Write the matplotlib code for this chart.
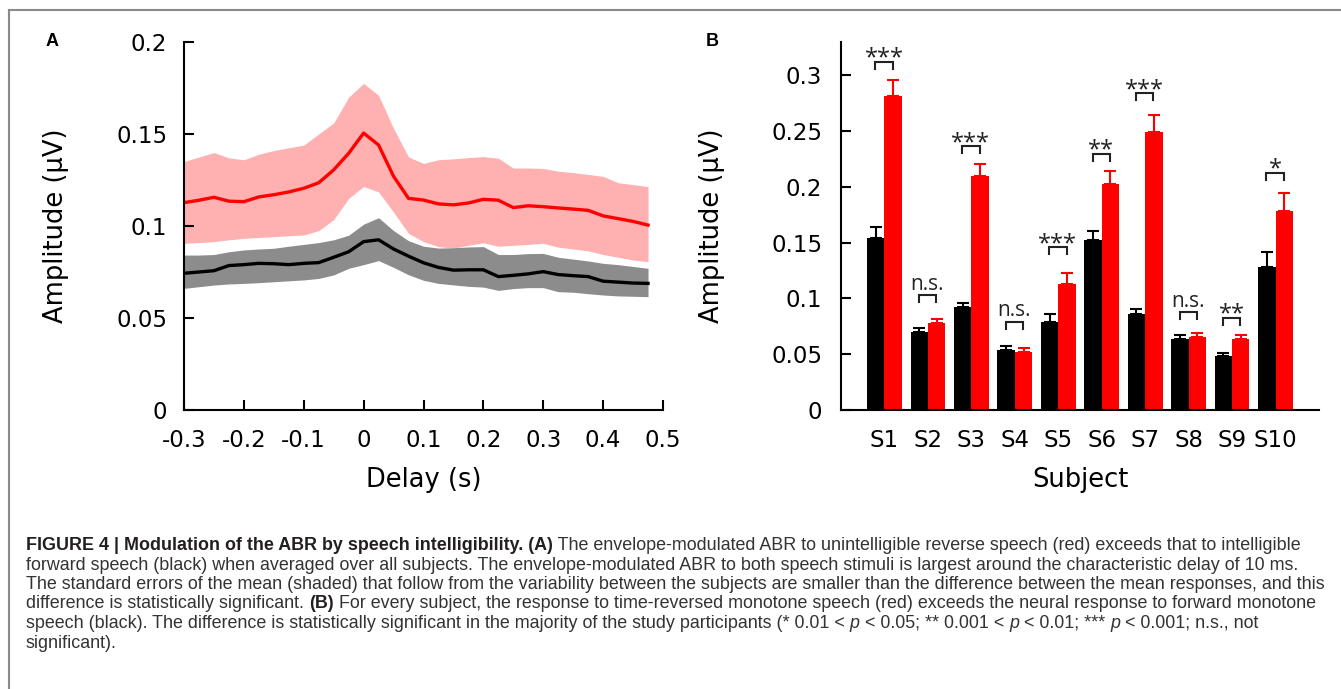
import numpy as np
import matplotlib
matplotlib.use('Agg')
import matplotlib.pyplot as plt
from matplotlib.lines import Line2D

W, H = 1341, 689

# ---- panel A: envelope-modulated ABR, mean and SEM bounds
delay = [-0.3, -0.275, -0.25, -0.225, -0.2, -0.175, -0.15, -0.125, -0.1, -0.075,
         -0.05, -0.025, 0.0, 0.025, 0.05, 0.075, 0.1, 0.125, 0.15, 0.175,
         0.2, 0.225, 0.25, 0.275, 0.3, 0.325, 0.35, 0.375, 0.4, 0.425, 0.45, 0.475]

rev_mean = [0.1127, 0.1140, 0.1156, 0.1135, 0.1132, 0.1158, 0.1170, 0.1185, 0.1205, 0.1235,
            0.1305, 0.1395, 0.1505, 0.1440, 0.1270, 0.1150, 0.1141, 0.1120, 0.1115, 0.1125,
            0.1145, 0.1140, 0.1100, 0.1110, 0.1105, 0.1098, 0.1092, 0.1085, 0.1055, 0.1040,
            0.1025, 0.1005]
rev_upper = [0.1350, 0.1375, 0.1399, 0.1370, 0.1360, 0.1390, 0.1410, 0.1425, 0.1440, 0.1500,
             0.1560, 0.1700, 0.1775, 0.1710, 0.1530, 0.1375, 0.1340, 0.1360, 0.1365, 0.1372,
             0.1377, 0.1368, 0.1315, 0.1315, 0.1313, 0.1298, 0.1290, 0.1280, 0.1270, 0.1235,
             0.1225, 0.1214]
rev_lower = [0.0906, 0.0910, 0.0915, 0.0925, 0.0933, 0.0938, 0.0942, 0.0947, 0.0951, 0.0975,
             0.1035, 0.1150, 0.1215, 0.1185, 0.1075, 0.0960, 0.0915, 0.0888, 0.0880, 0.0895,
             0.0909, 0.0890, 0.0895, 0.0900, 0.0906, 0.0885, 0.0875, 0.0865, 0.0845, 0.0830,
             0.0815, 0.0806]

fwd_mean = [0.0743, 0.0750, 0.0757, 0.0785, 0.0790, 0.0797, 0.0795, 0.0790, 0.0797, 0.0801,
            0.0830, 0.0860, 0.0915, 0.0925, 0.0875, 0.0836, 0.0800, 0.0775, 0.0760, 0.0762,
            0.0762, 0.0725, 0.0732, 0.0740, 0.0752, 0.0736, 0.0730, 0.0725, 0.0700, 0.0695,
            0.0690, 0.0688]
fwd_upper = [0.0842, 0.0842, 0.0845, 0.0860, 0.0870, 0.0875, 0.0879, 0.0890, 0.0900, 0.0910,
             0.0925, 0.0950, 0.1010, 0.1045, 0.0975, 0.0920, 0.0890, 0.0880, 0.0882, 0.0886,
             0.0888, 0.0845, 0.0845, 0.0850, 0.0851, 0.0830, 0.0820, 0.0810, 0.0797, 0.0790,
             0.0780, 0.0770]
fwd_lower = [0.0661, 0.0670, 0.0679, 0.0685, 0.0688, 0.0692, 0.0697, 0.0702, 0.0707, 0.0715,
             0.0734, 0.0770, 0.0790, 0.0812, 0.0775, 0.0735, 0.0705, 0.0688, 0.0680, 0.0672,
             0.0668, 0.0650, 0.0660, 0.0665, 0.0665, 0.0643, 0.0640, 0.0632, 0.0625, 0.0620,
             0.0618, 0.0616]

a_xticks = [-0.3, -0.2, -0.1, 0, 0.1, 0.2, 0.3, 0.4, 0.5]
a_xticklabels = ['-0.3', '-0.2', '-0.1', '0', '0.1', '0.2', '0.3', '0.4', '0.5']
a_yticks = [0, 0.05, 0.1, 0.15, 0.2]
a_yticklabels = ['0', '0.05', '0.1', '0.15', '0.2']

# ---- panel B: per-subject amplitudes
subjects = ['S1', 'S2', 'S3', 'S4', 'S5', 'S6', 'S7', 'S8', 'S9', 'S10']
fwd_amp = [0.1546, 0.0698, 0.0925, 0.0537, 0.0788, 0.1520, 0.0863, 0.0636, 0.0487, 0.1280]
fwd_se = [0.0094, 0.0036, 0.0035, 0.0036, 0.0072, 0.0086, 0.0047, 0.0036, 0.0026, 0.0138]
rev_amp = [0.2815, 0.0776, 0.2099, 0.0522, 0.1134, 0.2024, 0.2496, 0.0651, 0.0639, 0.1782]
rev_se = [0.0140, 0.0044, 0.0107, 0.0033, 0.0099, 0.0122, 0.0149, 0.0036, 0.0033, 0.0161]
sig_labels = ['***', 'n.s.', '***', 'n.s.', '***', '**', '***', 'n.s.', '**', '*']
bracket_level = [0.312, 0.103, 0.2366, 0.0789, 0.146, 0.230, 0.284, 0.0878, 0.0826, 0.2126]
b_yticks = [0, 0.05, 0.1, 0.15, 0.2, 0.25, 0.3]
b_yticklabels = ['0', '0.05', '0.1', '0.15', '0.2', '0.25', '0.3']

RED = '#ff0000'
PINK = '#ffb0b0'
GREY = '#8c8c8c'

plt.rcParams['font.family'] = ['DejaVu Sans']

fig = plt.figure(figsize=(W / 100, H / 100), dpi=100)


def style_axes(ax):
    for s in ['top', 'right']:
        ax.spines[s].set_visible(False)
    for s in ['left', 'bottom']:
        ax.spines[s].set_linewidth(1.5)
    ax.tick_params(direction='in', length=7.5, width=1.5, labelsize=16.5)


# panel A
ax1 = fig.add_axes([184 / W, 1 - 410 / H, 479 / W, 368 / H])
ax1.fill_between(delay, rev_lower, rev_upper, color=PINK, lw=0)
ax1.fill_between(delay, fwd_lower, fwd_upper, color=GREY, lw=0)
ax1.plot(delay, rev_mean, color=RED, lw=2.4)
ax1.plot(delay, fwd_mean, color='black', lw=2.4)
ax1.set_xlim(-0.3, 0.5)
ax1.set_ylim(0, 0.2)
style_axes(ax1)
ax1.set_xticks(a_xticks)
ax1.set_xticklabels(a_xticklabels)
ax1.set_yticks(a_yticks)
ax1.set_yticklabels(a_yticklabels)
ax1.tick_params(axis='x', pad=14)
ax1.tick_params(axis='y', pad=12)
ax1.set_xlabel('Delay (s)', fontsize=18.5, va='center')
ax1.xaxis.set_label_coords(0.5, -0.19)
ax1.set_ylabel('Amplitude (\u03bcV)', fontsize=18.5, va='center')
ax1.yaxis.set_label_coords(-0.267, 0.5)

# panel B
ax2 = fig.add_axes([841 / W, 1 - 410 / H, 478 / W, 368 / H])
x = np.arange(1, len(subjects) + 1)
ax2.bar(x - 0.2, fwd_amp, width=0.4, color='black', lw=0)
ax2.bar(x + 0.2, rev_amp, width=0.4, color=RED, lw=0)
ax2.errorbar(x - 0.2, fwd_amp, yerr=[np.zeros(len(x)), fwd_se], fmt='none',
             ecolor='black', elinewidth=1.5, capsize=4.5, capthick=1.5)
ax2.errorbar(x + 0.2, rev_amp, yerr=[np.zeros(len(x)), rev_se], fmt='none',
             ecolor=RED, elinewidth=1.5, capsize=4.5, capthick=1.5)
leg = 0.0063
for xi, lvl, lab in zip(x, bracket_level, sig_labels):
    ax2.plot([xi - 0.21, xi - 0.21, xi + 0.19, xi + 0.19],
             [lvl - leg, lvl, lvl, lvl - leg], color='#222222', lw=1.5,
             solid_joinstyle='miter')
    if lab == 'n.s.':
        ax2.annotate(lab, (xi - 0.01, lvl), xytext=(0, 4), textcoords='offset points',
                     ha='center', va='baseline', fontsize=15, family='Open Sans',
                     color='#222222')
    else:
        ax2.annotate(lab, (xi - 0.01, lvl), xytext=(0, -2), textcoords='offset points',
                     ha='center', va='baseline', fontsize=17, family='Open Sans',
                     color='#222222')
ax2.set_xlim(0, 11)
ax2.set_ylim(0, 0.33)
style_axes(ax2)
ax2.set_xticks(x)
ax2.set_xticklabels(subjects)
ax2.tick_params(axis='x', length=0, pad=14)
ax2.set_yticks(b_yticks)
ax2.set_yticklabels(b_yticklabels)
ax2.tick_params(axis='y', pad=13.5)
ax2.set_xlabel('Subject', fontsize=18.5, va='center')
ax2.xaxis.set_label_coords(0.5, -0.19)
ax2.set_ylabel('Amplitude (\u03bcV)', fontsize=18.5, va='center')
ax2.yaxis.set_label_coords(-0.27, 0.5)

# panel letters
fig.text(52 / W, 1 - 42 / H, 'A', ha='center', va='center', fontsize=13,
         fontweight='bold', family='Liberation Sans')
fig.text(712 / W, 1 - 42 / H, 'B', ha='center', va='center', fontsize=13,
         fontweight='bold', family='Liberation Sans')

# frame lines
fig.add_artist(Line2D([9 / W, 9 / W], [0, 1 - 10 / H], color='#8a8a8a', lw=1.5))
fig.add_artist(Line2D([9 / W, 1], [1 - 10 / H, 1 - 10 / H], color='#8a8a8a', lw=1.5))

# ---- caption
caption = [
    [('FIGURE 4 | Modulation of the ABR by speech intelligibility. (A)', 'bold', 'normal'),
     (' The envelope-modulated ABR to unintelligible reverse speech (red) exceeds that to intelligible', 'normal', 'normal')],
    [('forward speech (black) when averaged over all subjects. The envelope-modulated ABR to both speech stimuli is largest around the characteristic delay of 10 ms.', 'normal', 'normal')],
    [('The standard errors of the mean (shaded) that follow from the variability between the subjects are smaller than the difference between the mean responses, and this', 'normal', 'normal')],
    [('difference is statistically significant. ', 'normal', 'normal'), ('(B)', 'bold', 'normal'),
     (' For every subject, the response to time-reversed monotone speech (red) exceeds the neural response to forward monotone', 'normal', 'normal')],
    [('speech (black). The difference is statistically significant in the majority of the study participants (* 0.01 < ', 'normal', 'normal'),
     ('p', 'normal', 'italic'), (' < 0.05; ** 0.001 < ', 'normal', 'normal'), ('p', 'normal', 'italic'),
     (' < 0.01; *** ', 'normal', 'normal'), ('p', 'normal', 'italic'),
     (' < 0.001; n.s., not', 'normal', 'normal')],
    [('significant).', 'normal', 'normal')],
]

renderer = fig.canvas.get_renderer()
CAP_FONT = 'Liberation Sans'


def text_width(s, size, weight, style):
    # width including leading/trailing blanks, measured against a guard glyph
    t1 = fig.text(0, 0, s + 'I', fontsize=size, fontweight=weight, fontstyle=style, family=CAP_FONT)
    t2 = fig.text(0, 0, 'I', fontsize=size, fontweight=weight, fontstyle=style, family=CAP_FONT)
    w = t1.get_window_extent(renderer).width - t2.get_window_extent(renderer).width
    t1.remove()
    t2.remove()
    return w


cap_size = 10 * (1304 / text_width(caption[2][0][0], 10, 'normal', 'normal'))
x0 = 26
baselines = [550, 569.5, 589, 608.5, 628, 647.5]
for segs, yb in zip(caption, baselines):
    xp = x0
    for s, weight, style in segs:
        fig.text(xp / W, 1 - yb / H, s, fontsize=cap_size, fontweight=weight,
                 fontstyle=style, family=CAP_FONT, va='baseline', ha='left',
                 color='#231f20' if weight == 'bold' else '#333333')
        xp += text_width(s, cap_size, weight, style)

fig.savefig('out.png', dpi=100)
